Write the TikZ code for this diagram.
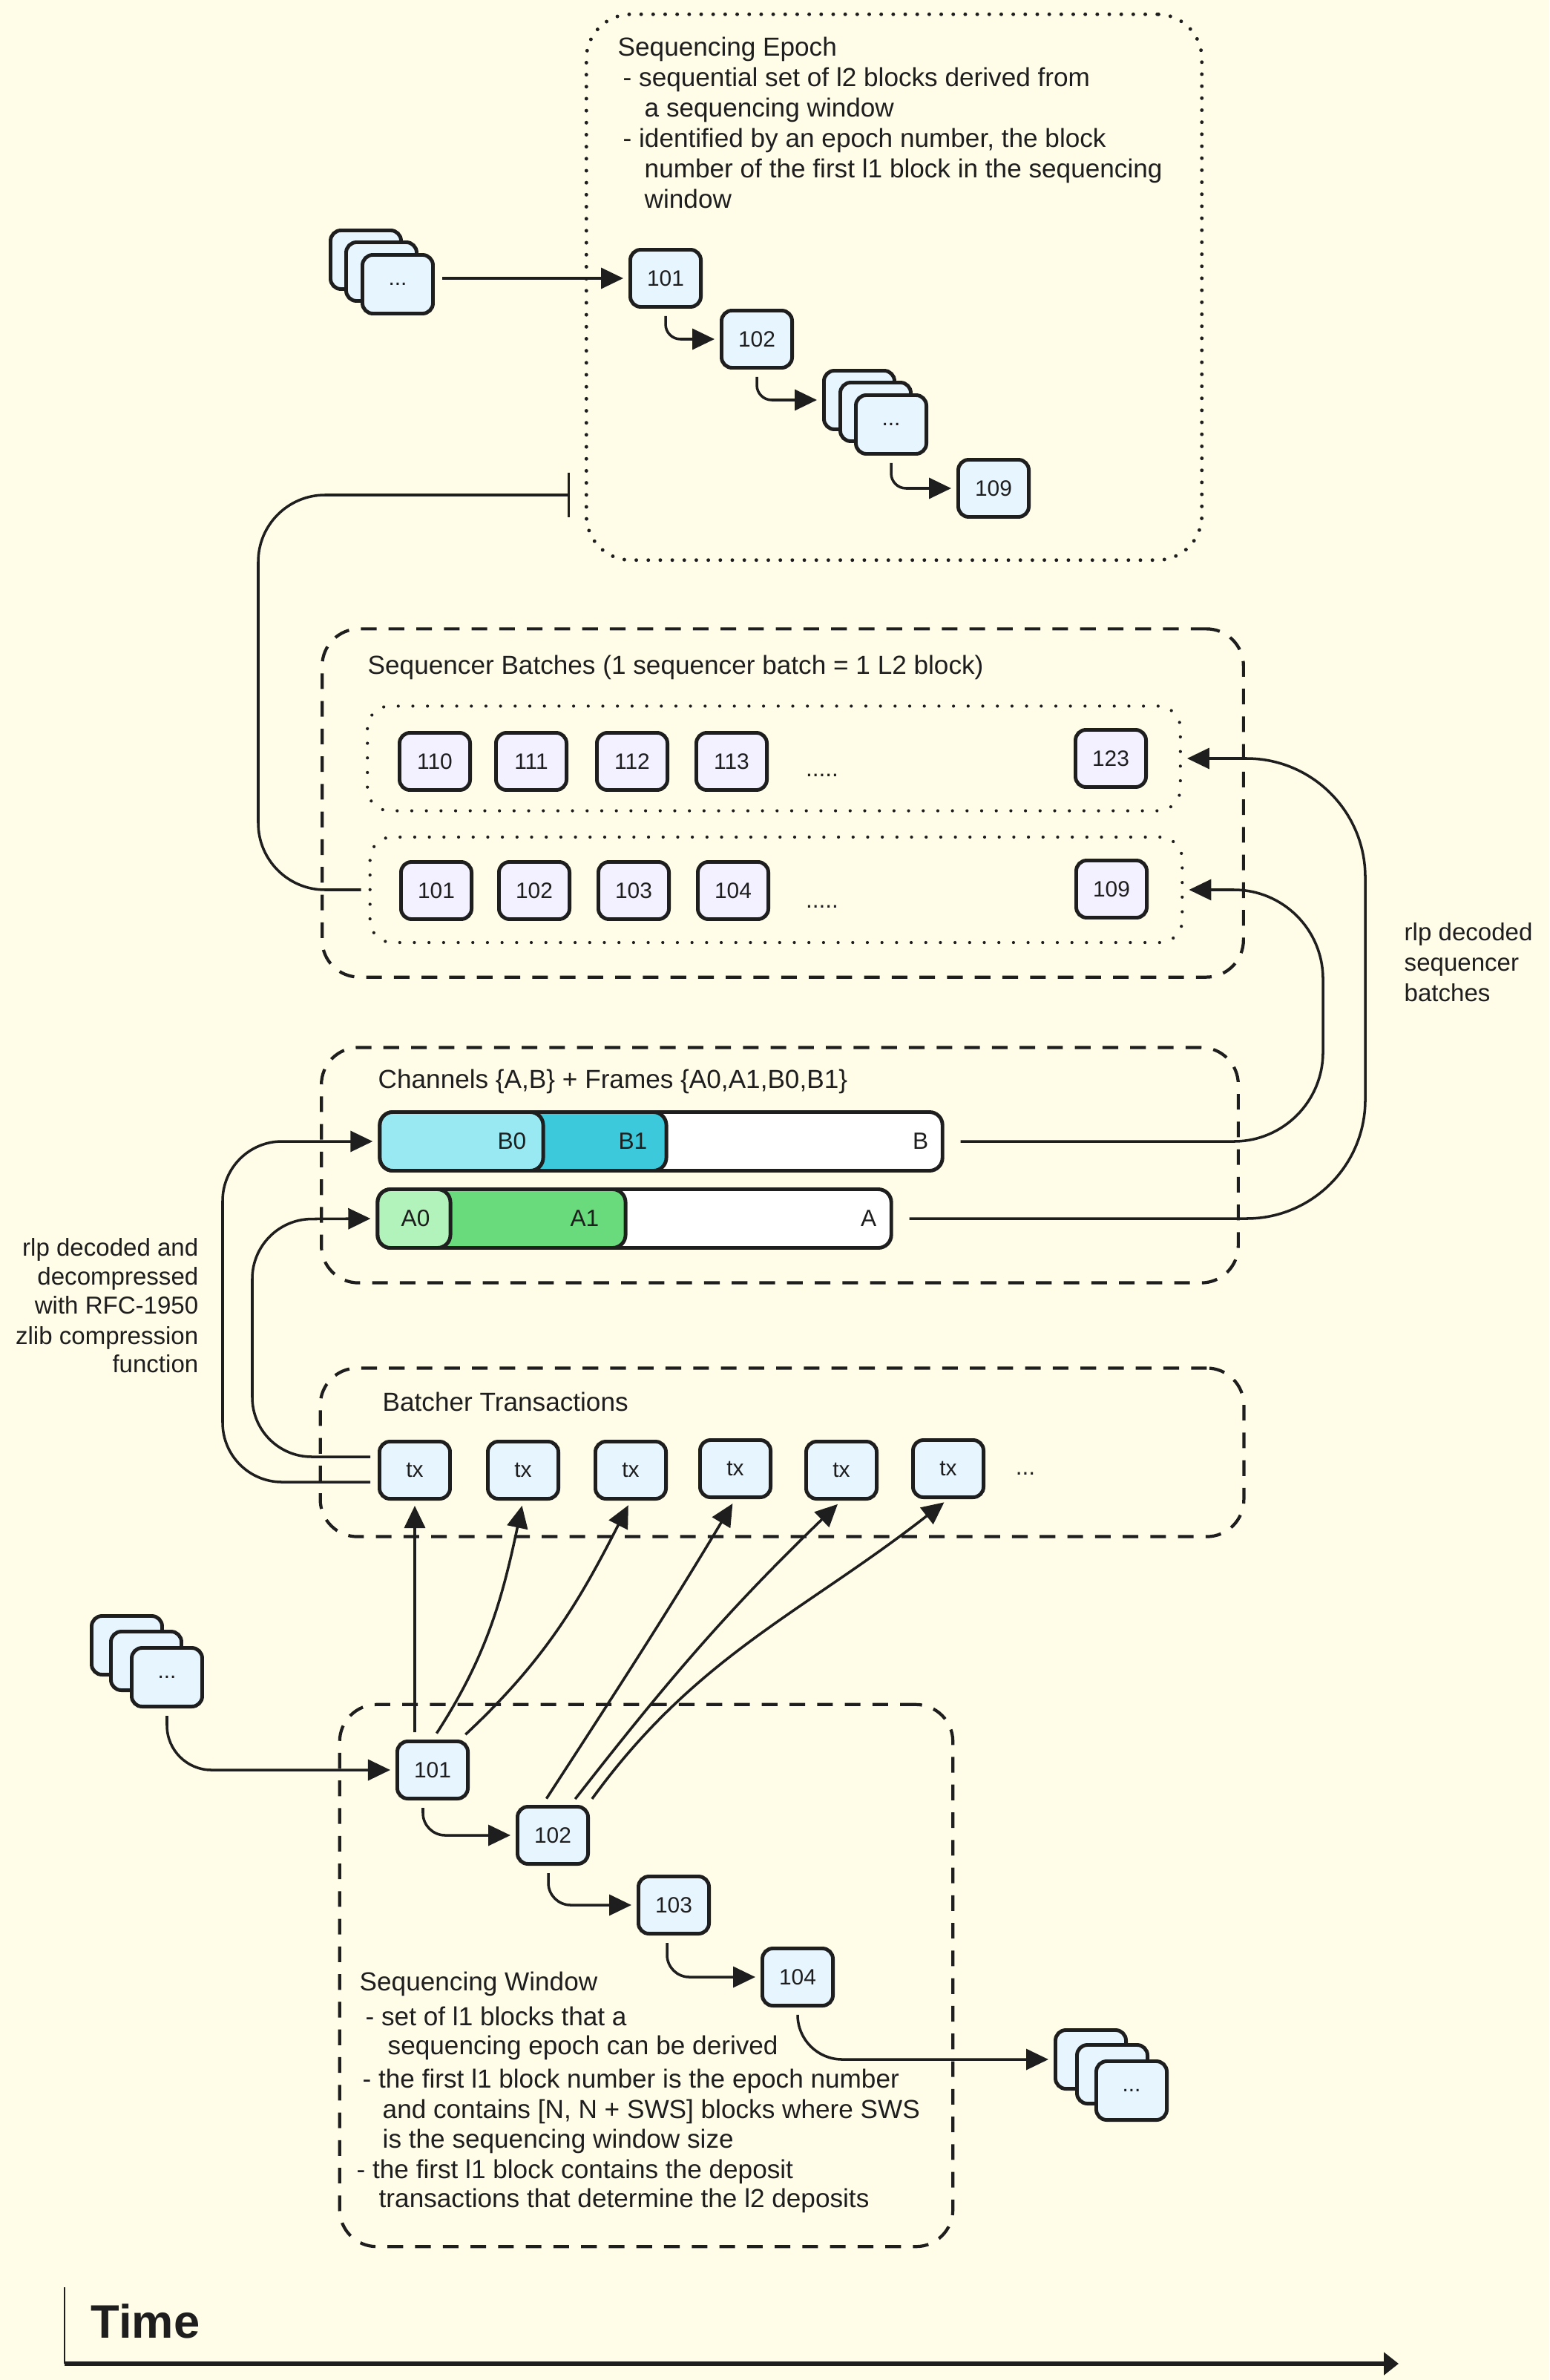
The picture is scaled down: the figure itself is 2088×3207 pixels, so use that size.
\documentclass[tikz,border=0pt]{standalone}
\usepackage{fontspec}
\setmainfont{Liberation Sans}
\usetikzlibrary{arrows.meta}

\definecolor{paper}{HTML}{FFFCE8}
\definecolor{ink}{HTML}{1E1E1E}
\definecolor{l1blue}{HTML}{E7F5FF}
\definecolor{l2violet}{HTML}{F3F0FF}
\definecolor{bzero}{HTML}{99E9F2}
\definecolor{bone}{HTML}{3BC9DB}
\definecolor{azero}{HTML}{B2F2BB}
\definecolor{aone}{HTML}{69DB7C}

\tikzset{
  blk/.style={draw=ink, line width=1.4pt, rounded corners=4pt, fill=l1blue,
    minimum width=0.95cm, minimum height=0.77cm, inner sep=0pt,
    text=ink, font=\fontsize{8.5}{10}\selectfont},
  l2blk/.style={blk, fill=l2violet},
  card/.style={blk, minimum height=0.79cm},
  dashbox/.style={draw=ink, line width=1.2pt, dash pattern=on 6pt off 4.6pt,
    rounded corners=0.5cm, inner sep=0pt},
  dotbox/.style={draw=ink, line width=1.4pt, line cap=round,
    dash pattern=on 0pt off 4.6pt, rounded corners=0.6cm, inner sep=0pt},
  rowbox/.style={dotbox, line width=1.2pt, dash pattern=on 0pt off 5.6pt,
    rounded corners=0.3cm},
  chanbar/.style={draw=ink, line width=1.4pt, rounded corners=5pt, fill=white,
    minimum height=0.79cm, inner sep=0pt},
  flow/.style={draw=ink, line width=1pt, -{Triangle[length=0.3cm, width=0.28cm]},
    shorten >=0.07cm, shorten <=0.1cm},
  txt/.style={inner sep=0pt, text=ink, font=\fontsize{10}{12}\selectfont},
  note/.style={txt, font=\fontsize{9.4}{11}\selectfont},
  lbl/.style={txt, font=\fontsize{9}{11}\selectfont},
}

\begin{document}
\begin{tikzpicture}[x=0.01cm, y=-0.01cm]

\fill[paper] (0,0) rectangle (2088,3207);
\useasboundingbox (0,0) rectangle (2088,3207);

% containers
\node[dotbox, minimum width=8.29cm, minimum height=7.35cm] (epoch) at (1205,387) {};
\node[dashbox, minimum width=12.41cm, minimum height=4.69cm] (batches) at (1055,1082) {};
\node[rowbox, minimum width=10.95cm, minimum height=1.41cm] (row1) at (1043,1022) {};
\node[rowbox, minimum width=10.94cm, minimum height=1.42cm] (row2) at (1046,1199) {};
\node[dashbox, minimum width=12.35cm, minimum height=3.17cm] (channels) at (1051,1570) {};
\node[dashbox, minimum width=12.44cm, minimum height=2.27cm] (batcher) at (1054,1957) {};
\node[dashbox, minimum width=8.26cm, minimum height=7.30cm] (window) at (871,2662) {};

% sequencing epoch
\foreach \k/\x/\y/\lin in {1/832/76/{Sequencing Epoch},
    2/839/117/{- sequential set of l2 blocks derived from},
    3/868/158/{a sequencing window},
    4/839/199/{- identified by an epoch number, the block},
    5/868/240/{number of the first l1 block in the sequencing},
    6/868/281/{window}}
  \node[txt, anchor=base west] (epochtxt\k) at (\x,\y) {\lin};

\foreach \n/\x/\y/\lin in {A/493/350/{}, B/514/366/{}, C/536/383/{...}}
  \node[card] (prev\n) at (\x,\y) {\lin};
\node[blk] (e101) at (897,375) {101};
\node[blk] (e102) at (1020,457) {102};
\foreach \n/\x/\y/\lin in {A/1158/539/{}, B/1180/555/{}, C/1201/572/{...}}
  \node[card] (mid\n) at (\x,\y) {\lin};
\node[blk] (e109) at (1339,658) {109};

\draw[flow] (e101.west -| prevC.east) -- (e101.west);
\draw[flow, rounded corners=0.2cm] (e101.south) |- (e102.west);
\draw[flow, rounded corners=0.2cm] (e102.south) |- (midA.west);
\draw[flow, rounded corners=0.2cm] (midC.south) |- (e109.west);

% sequencer batches
\node[txt, anchor=base west] (batchtitle) at (495,908)
  {Sequencer Batches (1 sequencer batch = 1 L2 block)};
\foreach \n/\x in {110/586, 111/716, 112/852, 113/986}
  \node[l2blk] (b\n) at (\x,1026) {\n};
\node[lbl] (rowdots1) at (1108,1045) {.....};
\node[l2blk] (b123) at (1497,1022) {123};
\foreach \n/\x in {101/588, 102/720, 103/854, 104/988}
  \node[l2blk] (c\n) at (\x,1200) {\n};
\node[lbl] (rowdots2) at (1108,1222) {.....};
\node[l2blk] (c109) at (1498,1198) {109};

\coordinate (epochin) at (768,667);
\coordinate (leftbend) at (348,1199);
\draw[draw=ink, line width=1pt, -{Bar[width=0.6cm, line width=0.9pt]},
  rounded corners=0.9cm, shorten <=0.1cm] (row2.west) -- (leftbend) |- (epochin);

% channels and frames
\node[txt, anchor=base west] (chantitle) at (509,1466)
  {Channels \{A,B\} + Frames \{A0,A1,B0,B1\}};
\node[chanbar, minimum width=7.58cm] (chB) at (891,1538) {};
\node[chanbar, fill=bone, minimum width=1.86cm] (chBone) at (805,1538) {};
\node[chanbar, fill=bzero, minimum width=2.2cm] (chBzero) at (622,1538) {};
\node[lbl, anchor=east] (lBzero) at (710,1538) {B0};
\node[lbl, anchor=east] (lBone) at (873,1538) {B1};
\node[lbl, anchor=east] (lB) at (1252,1538) {B};

\node[chanbar, minimum width=6.92cm] (chA) at (855,1642) {};
\node[chanbar, fill=aone, minimum width=2.56cm] (chAone) at (715,1642) {};
\node[chanbar, fill=azero, minimum width=0.98cm] (chAzero) at (558,1642) {};
\node[lbl] (lAzero) at (560,1642) {A0};
\node[lbl, anchor=east] (lAone) at (808,1642) {A1};
\node[lbl, anchor=east] (lA) at (1182,1642) {A};

\coordinate (rbend) at (1783,1199);
\coordinate (rabend) at (1840,1022);
\draw[flow, rounded corners=1.2cm, shorten <=0.22cm] (chB.east) -| (rbend) -- (row2.east);
\draw[flow, rounded corners=1.6cm, shorten <=0.22cm] (chA.east) -| (rabend) -- (row1.east);

\foreach \k/\y/\lin in {1/1267/{rlp decoded}, 2/1308/{sequencer}, 3/1349/{batches}}
  \node[note, anchor=base west] (rlpnote\k) at (1892,\y) {\lin};

% batcher transactions
\node[txt, anchor=base west] (txtitle) at (515,1901) {Batcher Transactions};
\foreach \i/\x/\y in {1/559/1981, 2/705/1981, 3/850/1981, 4/991/1979, 5/1134/1981, 6/1278/1979}
  \node[blk] (tx\i) at (\x,\y) {tx};
\node[lbl] (txdots) at (1382,1986) {...};

\coordinate (bbend) at (300,1538);
\coordinate (abend) at (340,1643);
\draw[flow, rounded corners=0.8cm] ([yshift=-0.16cm]tx1.west) -| (bbend) -- (chB.west);
\draw[flow, rounded corners=0.8cm] ([yshift=0.18cm]tx1.west) -| (abend) -- (chA.west);

\foreach \k/\y/\lin in {1/1692/{rlp decoded and}, 2/1731/{decompressed},
    3/1770/{with RFC-1950}, 4/1811/{zlib compression}, 5/1849/{function}}
  \node[note, anchor=base east] (zlibnote\k) at (268,\y) {\lin};

% sequencing window
\foreach \n/\x/\y/\lin in {A/171/2217/{}, B/197/2238/{}, C/225/2260/{...}}
  \node[card] (l1prev\n) at (\x,\y) {\lin};
\node[blk] (w101) at (583,2385) {101};
\node[blk] (w102) at (745,2473) {102};
\node[blk] (w103) at (908,2567) {103};
\node[blk] (w104) at (1075,2664) {104};
\foreach \n/\x/\y/\lin in {A/1470/2775/{}, B/1499/2795/{}, C/1525/2817/{...}}
  \node[card] (l1next\n) at (\x,\y) {\lin};

\draw[flow, rounded corners=0.6cm] (l1prevC.south) |- (w101.west);
\draw[flow, rounded corners=0.3cm] ([xshift=-0.13cm]w101.south) |- (w102.west);
\draw[flow, rounded corners=0.3cm] ([xshift=-0.06cm]w102.south) |- (w103.west);
\draw[flow, rounded corners=0.3cm] ([xshift=-0.09cm]w103.south) |- (w104.west);
\draw[flow, rounded corners=0.6cm] (w104.south) |- (l1nextA.west);

\draw[flow] ([xshift=-0.24cm]w101.north) -- (tx1.south);
\draw[flow] (w101.north) to[out=57, in=-102] (tx2.south);
\draw[flow] ([xshift=0.37cm]w101.north) to[out=43, in=-117] (tx3.south);
\draw[flow] ([xshift=-0.14cm]w102.north) to[out=57, in=-121] (tx4.south);
\draw[flow] ([xshift=0.24cm]w102.north) to[out=52, in=-136] (tx5.south);
\draw[flow] ([xshift=0.47cm]w102.north) to[out=54, in=-142] (tx6.south);

\foreach \k/\x/\y/\lin in {1/484/2682/{Sequencing Window},
    2/492/2729/{- set of l1 blocks that a},
    3/522/2768/{sequencing epoch can be derived},
    4/488/2813/{- the first l1 block number is the epoch number},
    5/515/2854/{and contains [N, N + SWS] blocks where SWS},
    6/515/2894/{is the sequencing window size},
    7/480/2935/{- the first l1 block contains the deposit},
    8/510/2974/{transactions that determine the l2 deposits}}
  \node[txt, anchor=base west] (windowtxt\k) at (\x,\y) {\lin};

% time axis
\coordinate (ttop) at (87,3082);
\coordinate (torigin) at (87,3185);
\coordinate (tend) at (1885,3185);
\draw[ink, line width=0.7pt] (ttop) -- (torigin);
\draw[ink, line width=1.5pt, -{Triangle[length=0.2cm, width=0.3cm]}] (torigin) -- (tend);
\node[txt, font=\fontsize{18}{20}\selectfont\bfseries, anchor=base west] (timelbl) at (122,3150) {Time};

\end{tikzpicture}
\end{document}
